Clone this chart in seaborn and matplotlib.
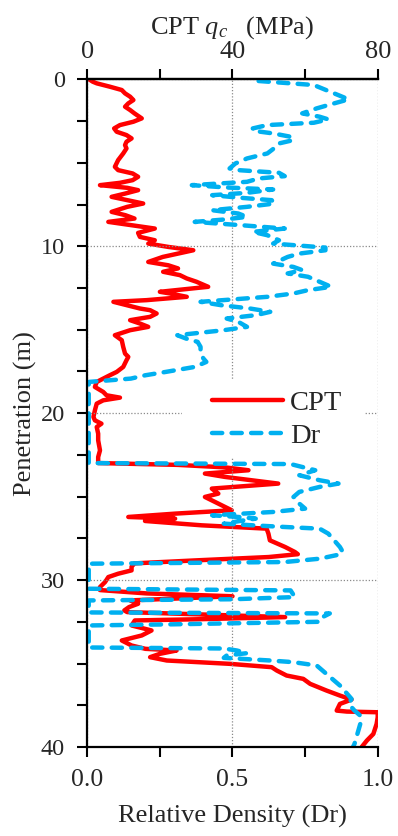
import matplotlib
matplotlib.use("Agg")
import matplotlib.pyplot as plt
import seaborn as sns
import pandas as pd
from matplotlib.ticker import FixedLocator, FormatStrFormatter
from matplotlib.patches import Rectangle

# CPT cone resistance profile
cpt_depth = [0.0, 0.14, 0.24, 0.44, 0.64, 0.84, 1.04, 1.24, 1.44, 1.64, 1.84, 2.04, 2.34, 2.54,
             2.74, 2.94, 3.14, 3.34, 3.54, 3.74, 3.94, 4.14, 4.44, 4.84, 5.24, 5.44, 5.64, 5.84,
             6.04, 6.20, 6.34, 6.50, 6.64, 6.84, 7.04, 7.24, 7.44, 7.64, 7.94, 8.14, 8.34, 8.54,
             8.74, 8.94, 9.20, 9.44, 9.64, 9.84, 10.04, 10.24, 10.44, 10.64, 10.94, 11.14, 11.33,
             11.53, 11.73, 11.93, 12.13, 12.43, 12.63, 12.73, 12.83, 13.03, 13.23, 13.33, 13.53,
             13.73, 13.83, 14.03, 14.23, 14.43, 14.63, 14.83, 15.03, 15.33, 15.63, 16.03, 16.43,
             16.63, 16.83, 17.23, 17.53, 17.73, 17.93, 18.13, 18.43, 18.73, 18.93, 19.07, 19.23,
             19.43, 19.83, 20.23, 20.43, 20.63, 20.83, 21.23, 21.63, 22.23, 22.63, 22.99, 23.10,
             23.25, 23.42, 23.62, 23.82, 24.02, 24.22, 24.52, 24.82, 25.02, 25.42, 25.82, 26.02,
             26.22, 26.32, 26.46, 26.72, 26.92, 27.22, 27.62, 28.02, 28.32, 28.45, 28.62, 28.82,
             29.00, 29.20, 29.42, 29.62, 29.82, 30.12, 30.42, 30.60, 30.80, 30.97, 31.10, 31.22,
             31.42, 31.62, 31.82, 31.92, 32.22, 32.35, 32.42, 32.72, 33.02, 33.32, 33.62, 33.92,
             34.12, 34.22, 34.42, 34.62, 34.82, 35.02, 35.22, 35.42, 35.72, 35.92, 36.22, 36.62,
             36.92, 37.16, 37.42, 37.82, 37.88, 37.92, 38.22, 38.62, 39.22, 39.62, 40.0]
cpt_qc = [0.5, 1.5, 2.6, 6.2, 9.5, 10.4, 11.8, 12.7, 11.3, 10.4, 11.8, 13.0, 15.0, 12.7,
          9.0, 7.4, 8.1, 10.8, 12.2, 10.8, 10.4, 10.8, 9.9, 8.5, 7.6, 8.5, 12.5, 14.0,
          12.5, 9.0, 3.5, 11.0, 14.0, 10.5, 6.7, 11.0, 15.4, 11.0, 6.7, 10.5, 13.0, 5.8,
          12.2, 18.6, 14.0, 14.5, 18.6, 16.8, 22.3, 29.2, 25.0, 20.8, 16.8, 22.3, 25.0,
          20.9, 25.5, 27.4, 30.1, 33.3, 24.6, 20.0, 22.8, 27.4, 16.3, 7.2, 10.8,
          14.5, 17.3, 19.1, 17.3, 11.8, 14.5, 16.8, 11.8, 7.6, 9.5, 9.9, 10.4,
          11.3, 10.8, 9.9, 8.1, 6.2, 4.4, 2.6, 2.1, 4.4, 5.3, 9.0, 4.4,
          2.6, 2.1, 1.7, 2.1, 3.9, 2.6, 3.0, 3.0, 3.5, 3.0, 3.0, 25.0,
          38.0, 44.4, 32.4, 37.9, 45.3, 52.6, 34.3, 36.1, 32.4, 36.1, 39.8, 24.2,
          11.3, 24.2, 15.9, 31.5, 49.4, 49.9, 50.3, 54.5, 57.2, 58.0, 50.0, 30.0,
          13.0, 12.2, 12.2, 8.5, 5.8, 4.9, 3.5, 3.5, 16.3, 40.0, 25.5, 11.8,
          14.0, 11.5, 10.2, 11.0, 54.5, 30.0, 13.1, 12.2, 17.7, 15.0, 9.5, 12.2,
          16.0, 24.6, 20.0, 17.3, 21.9, 39.3, 50.8, 52.2, 54.9, 59.5, 61.4, 65.9,
          69.6, 72.8, 69.6, 68.7, 71.5, 80.0, 80.0, 79.7, 78.8, 77.0, 75.6]

# Relative density profile
dr_depth = [0.10, 0.20, 0.34, 0.84, 1.20, 1.44, 1.74, 2.04, 2.24, 2.40, 2.60, 2.74, 2.94, 3.08,
            3.24, 3.44, 3.64, 3.84, 4.04, 4.44, 4.74, 5.04, 5.34, 5.44, 5.60, 5.80, 5.94, 6.14,
            6.34, 6.48, 6.60, 6.80, 6.94, 7.10, 7.24, 7.44, 7.64, 7.84, 8.04, 8.24, 8.40, 8.54,
            8.74, 8.94, 9.14, 9.34, 9.64, 9.84, 10.08, 10.24, 10.44, 10.64, 11.04, 11.24, 11.43,
            11.63, 11.83, 12.13, 12.43, 12.63, 12.83, 13.03, 13.33, 13.53, 13.73, 13.93, 14.13,
            14.33, 14.53, 14.83, 15.03, 15.33, 15.53, 15.73, 16.03, 16.43, 16.73, 16.93, 17.23,
            17.53, 17.73, 17.93, 18.13, 22.99, 23.05, 23.42, 23.72, 24.02, 24.22, 24.42, 24.72,
            25.02, 25.42, 25.72, 25.92, 26.12, 26.22, 26.32, 26.42, 26.62, 26.72, 26.82, 26.92,
            27.22, 27.62, 28.02, 28.32, 28.50, 28.72, 28.92, 29.02, 30.52, 30.62, 31.02, 31.15,
            31.22, 31.94, 32.00, 32.22, 32.50, 32.65, 32.72, 34.04, 34.10, 34.22, 34.38, 34.52,
            34.66, 34.82, 34.92, 35.12, 35.42, 35.72, 36.02, 36.32, 36.72, 37.12, 37.42, 37.82,
            38.12, 38.62, 39.22, 39.82, 40.0]
dr_value = [0.59, 0.67, 0.78, 0.85, 0.90, 0.85, 0.79, 0.74, 0.80, 0.83, 0.78, 0.62, 0.57, 0.57,
            0.64, 0.70, 0.71, 0.66, 0.65, 0.62, 0.55, 0.51, 0.49, 0.52, 0.66, 0.68, 0.59, 0.55,
            0.36, 0.48, 0.64, 0.55, 0.43, 0.53, 0.635, 0.645, 0.55, 0.43, 0.52, 0.55, 0.47, 0.37,
            0.53, 0.68, 0.57, 0.62, 0.66, 0.64, 0.82, 0.82, 0.73, 0.69, 0.64, 0.71, 0.74,
            0.69, 0.76, 0.80, 0.84, 0.76, 0.71, 0.62, 0.39, 0.46, 0.56, 0.63, 0.58,
            0.48, 0.52, 0.55, 0.47, 0.31, 0.34, 0.38, 0.39, 0.39, 0.40, 0.41, 0.37,
            0.27, 0.20, 0.15, 0.005, 0.005, 0.70, 0.785, 0.73, 0.80, 0.865, 0.80, 0.73,
            0.71, 0.73, 0.75, 0.64, 0.43, 0.52, 0.58, 0.54, 0.47, 0.57, 0.68, 0.80,
            0.83, 0.85, 0.87, 0.88, 0.86, 0.80, 0.68, 0.005, 0.005, 0.70, 0.715, 0.50,
            0.005, 0.005, 0.835, 0.81, 0.80, 0.30, 0.005, 0.005, 0.47, 0.515, 0.55, 0.48,
            0.47, 0.63, 0.71, 0.79, 0.81, 0.83, 0.85, 0.87, 0.89, 0.91, 0.90, 0.92,
            0.94, 0.94, 0.93, 0.92, 0.915]

cpt = pd.DataFrame({"depth": cpt_depth, "qc": cpt_qc})
dr = pd.DataFrame({"depth": dr_depth, "Dr": dr_value})

sns.set_theme(style="ticks")
plt.rcParams["font.family"] = ["Liberation Serif", "DejaVu Serif"]
plt.rcParams["mathtext.fontset"] = "custom"
plt.rcParams["mathtext.rm"] = "Liberation Serif"
plt.rcParams["mathtext.it"] = "Liberation Serif:italic"

RED = "#FF0000"
BLUE = "#00B0F0"
LABEL_FS = 19

fig = plt.figure(figsize=(3.98, 8.36), dpi=100)
ax = fig.add_axes([0.2193, 0.1065, 0.7297, 0.7986])
ax_top = ax.twiny()

# CPT on the top (MPa) axis, Dr on the bottom axis drawn above it
sns.lineplot(data=cpt, x="qc", y="depth", sort=False, estimator=None, ax=ax_top,
             color=RED, linewidth=3.2, solid_joinstyle="round", label="CPT", legend=False)
sns.lineplot(data=dr, x="Dr", y="depth", sort=False, estimator=None, ax=ax,
             color=BLUE, linewidth=3.2, linestyle=(0, (2.3, 2.1)), dash_capstyle="round",
             label="Dr", legend=False)
ax.set_zorder(ax_top.get_zorder() + 1)
ax.patch.set_visible(False)

# bottom axis: relative density
ax.set_xlim(0, 1)
ax.set_ylim(40, 0)
ax.xaxis.set_major_locator(FixedLocator([0, 0.5, 1.0]))
ax.xaxis.set_minor_locator(FixedLocator([0.25, 0.75]))
ax.xaxis.set_major_formatter(FormatStrFormatter("%.1f"))
ax.yaxis.set_major_locator(FixedLocator([0, 10, 20, 30, 40]))
ax.yaxis.set_minor_locator(FixedLocator([2.5 * i for i in range(17) if i % 4]))
ax.set_xlabel("Relative Density (Dr)", fontsize=LABEL_FS, labelpad=10)
ax.set_ylabel("Penetration (m)", fontsize=LABEL_FS, labelpad=3)
ax.tick_params(axis="both", which="both", direction="out", length=7, width=1.5,
               color="black", top=False, right=False)
ax.tick_params(axis="x", which="major", pad=9, labelsize=18.5)
ax.tick_params(axis="y", which="major", pad=9, labelsize=17.5)
ax.grid(True, which="major", color="#8a8a8a", linestyle=(0, (1, 1.5)), linewidth=0.9)

# top axis: cone resistance
ax_top.set_xlim(0, 80)
ax_top.xaxis.set_major_locator(FixedLocator([0, 40, 80]))
ax_top.xaxis.set_minor_locator(FixedLocator([20, 60]))
ax_top.set_xlabel(r"CPT $q_c\ \ \ $(MPa)", fontsize=LABEL_FS)
ax_top.xaxis.set_label_coords(0.5, 1.069)
ax_top.tick_params(axis="x", which="both", direction="out", length=7, width=1.5,
                   color="black", labelsize=19, pad=4.5)

for a in (ax, ax_top):
    a.spines["right"].set_visible(False)
    for s in ("left", "top", "bottom"):
        a.spines[s].set_linewidth(1.6)
        a.spines[s].set_color("black")
ax_top.spines["left"].set_visible(False)
ax_top.spines["bottom"].set_visible(False)

# legend on a white panel that interrupts the grid
ax.add_patch(Rectangle((0.326, 0.4326), 0.63, 0.1168, transform=ax.transAxes,
                       facecolor="white", edgecolor="none", zorder=1))
handles = ax_top.get_lines()[:1] + ax.get_lines()[:1]
ax.legend(handles, ["CPT", "Dr"], loc="center left", bbox_to_anchor=(0.429, 0.491),
          frameon=False, fontsize=20.5, handlelength=2.5, handletextpad=0.25,
          labelspacing=0.25, borderpad=0, borderaxespad=0)

fig.savefig("out.png", dpi=100, facecolor="white")
